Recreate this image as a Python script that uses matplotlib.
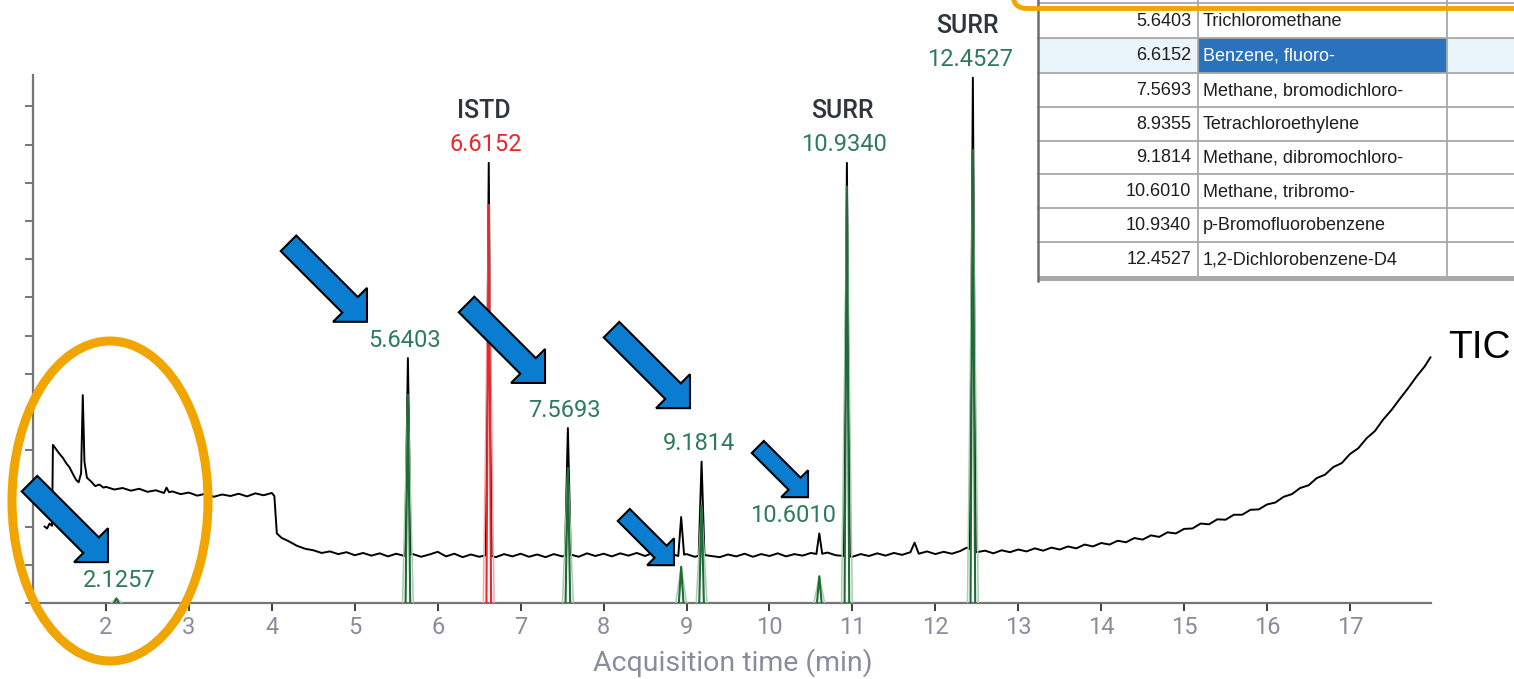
import numpy as np
import matplotlib
matplotlib.use("Agg")
import matplotlib.pyplot as plt
from matplotlib.patches import Polygon, Ellipse, Rectangle, FancyBboxPatch

# ---------------- data ----------------
# TIC baseline (time in min, arbitrary intensity units)
tic_time = [1.26, 1.29, 1.32, 1.35, 1.36, 1.40, 1.44, 1.48, 1.52, 1.56, 1.60, 1.64, 1.67,
            1.70, 1.72, 1.74, 1.77, 1.82, 1.87, 1.92, 1.97,
            2.00, 2.10, 2.20, 2.30, 2.40, 2.50, 2.60, 2.70, 2.73, 2.76, 2.80, 2.90, 3.00,
            3.10, 3.20, 3.30, 3.40, 3.50, 3.60, 3.70, 3.80, 3.90, 4.00, 4.03, 4.06, 4.12,
            4.20, 4.30, 4.40, 4.50, 4.60, 4.70, 4.80, 4.90, 5.00, 5.10, 5.20, 5.30, 5.40,
            5.50, 5.60, 5.70, 5.80, 5.90, 6.00, 6.10, 6.20, 6.30, 6.40, 6.50, 6.60, 6.70,
            6.80, 6.90, 7.00, 7.10, 7.20, 7.30, 7.40, 7.50, 7.60, 7.70, 7.80, 7.90, 8.00,
            8.10, 8.20, 8.30, 8.40, 8.50, 8.60, 8.70, 8.80, 8.90, 9.00, 9.10, 9.20, 9.30,
            9.40, 9.50, 9.60, 9.70, 9.80, 9.90, 10.00, 10.10, 10.20, 10.30, 10.40, 10.50,
            10.60, 10.70, 10.80, 10.90, 11.00, 11.10, 11.20, 11.30, 11.40, 11.50, 11.60,
            11.70, 11.75, 11.80, 11.90, 12.00, 12.10, 12.20, 12.30, 12.38, 12.50, 12.60,
            12.70, 12.80, 12.90, 13.00, 13.10, 13.20, 13.30, 13.40, 13.50, 13.60, 13.70,
            13.80, 13.90, 14.00, 14.10, 14.20, 14.30, 14.40, 14.50, 14.60, 14.70, 14.80,
            14.90, 15.00, 15.10, 15.20, 15.30, 15.40, 15.50, 15.60, 15.70, 15.80, 15.90,
            16.00, 16.10, 16.20, 16.30, 16.40, 16.50, 16.60, 16.70, 16.80, 16.90, 17.00,
            17.10, 17.20, 17.30, 17.40, 17.50, 17.60, 17.70, 17.80, 17.90, 17.97]
tic_level = [2.00, 1.95, 2.08, 2.02, 4.14, 4.02, 3.90, 3.80, 3.66, 3.55, 3.38, 3.22, 3.16,
             3.40, 5.44, 3.70, 3.28, 3.18, 3.06, 3.10, 3.02,
             3.04, 2.97, 3.01, 2.94, 2.99, 2.91, 2.95, 2.88, 3.02, 2.90, 2.92, 2.85, 2.89,
             2.81, 2.86, 2.78, 2.84, 2.80, 2.86, 2.79, 2.87, 2.82, 2.88, 2.80, 1.82, 1.70,
             1.62, 1.50, 1.42, 1.38, 1.31, 1.35, 1.28, 1.33, 1.25, 1.31, 1.24, 1.30, 1.22,
             1.29, 1.23, 1.28, 1.21, 1.27, 1.34, 1.22, 1.29, 1.20, 1.27, 1.21, 1.26, 1.20,
             1.28, 1.22, 1.29, 1.21, 1.27, 1.20, 1.28, 1.22, 1.27, 1.21, 1.30, 1.23, 1.29,
             1.22, 1.30, 1.24, 1.31, 1.23, 1.32, 1.25, 1.30, 1.23, 1.28, 1.21, 1.26, 1.23,
             1.20, 1.27, 1.22, 1.29, 1.21, 1.28, 1.23, 1.30, 1.22, 1.28, 1.24, 1.31,
             1.27, 1.32, 1.25, 1.23, 1.21, 1.28, 1.23, 1.30, 1.24, 1.31, 1.26,
             1.33, 1.58, 1.29, 1.35, 1.28, 1.34, 1.29, 1.36, 1.45, 1.33, 1.37,
             1.30, 1.38, 1.33, 1.40, 1.35, 1.43, 1.37, 1.45, 1.40, 1.48, 1.43,
             1.53, 1.48, 1.57, 1.53, 1.63, 1.59, 1.70, 1.66, 1.77, 1.73, 1.85,
             1.82, 1.94, 1.95, 2.08, 2.06, 2.19, 2.18, 2.31, 2.31, 2.44, 2.45,
             2.58, 2.63, 2.78, 2.85, 3.01, 3.08, 3.27, 3.36, 3.56, 3.66, 3.90,
             4.05, 4.31, 4.50, 4.80, 5.05, 5.34, 5.62, 5.92, 6.19, 6.43]

# identified peaks
peak_rt = [2.1257, 5.6403, 6.6152, 7.5693, 8.9355, 9.1814, 10.6010, 10.9340, 12.4527]
peak_tic_apex = [None, 6.41, 11.52, 4.58, 2.25, 3.70, 1.82, 11.52, 13.75]
peak_eic_height = [0.12, 5.45, 10.42, 3.53, 0.95, 2.55, 0.70, 10.90, 11.86]
peak_kind = ["target", "target", "istd", "target", "target", "target", "target", "surr", "surr"]
peak_labelled = [True, True, True, True, False, True, True, True, True]
kind_tag = {"istd": "ISTD", "surr": "SURR"}

x_ticks = list(range(2, 18))
y_ticks = list(range(0, 14))

table_rt = ["5.6403", "6.6152", "7.5693", "8.9355", "9.1814", "10.6010", "10.9340", "12.4527"]
table_name = ["Trichloromethane", "Benzene, fluoro-", "Methane, bromodichloro-",
              "Tetrachloroethylene", "Methane, dibromochloro-", "Methane, tribromo-",
              "p-Bromofluorobenzene", "1,2-Dichlorobenzene-D4"]
table_selected = 1

# arrow annotations: tip position in data coords, size class
arrow_tips = [(5.147, 7.36, "big"), (7.294, 5.76, "big"), (9.042, 5.10, "big"),
              (10.465, 2.77, "small"), (8.849, 0.99, "small"), (2.024, 1.07, "big")]

# ---------------- styling / layout ----------------
plt.rcParams["font.family"] = ["Roboto", "DejaVu Sans"]
W, H = 1514, 679
fig = plt.figure(figsize=(W / 100, H / 100), dpi=100)
fig.patch.set_facecolor("white")
ax = fig.add_axes([32.5 / W, 1 - 603 / H, (1431 - 32.5) / W, (603 - 75) / H])
ax.set_xlim(1.1137, 17.977)
ax.set_ylim(0, 13.82)

axis_gray = "#767676"
tick_lab = "#8a8c9c"
num_green = "#2e7b5c"
dark_green = "#1f6b36"
light_green = "#a8cdb0"
red = "#e8282f"
light_red = "#f4a8a8"

for s in ["top", "right"]:
    ax.spines[s].set_visible(False)
for s in ["left", "bottom"]:
    ax.spines[s].set_color(axis_gray)
    ax.spines[s].set_linewidth(1.6)
ax.set_xticks(x_ticks)
ax.set_yticks(y_ticks)
ax.tick_params(axis="x", length=5.5, width=1.4, color="#3d3d3d", labelcolor=tick_lab,
               labelsize=17, pad=4)
ax.tick_params(axis="y", length=5.5, width=1.4, color=axis_gray, labelleft=False)
ax.patch.set_alpha(0)

# ---------------- TIC ----------------
bt = np.array(tic_time)
bl = np.array(tic_level)
hw_tic = 0.035
keep = np.ones(bt.shape, bool)
ext_t, ext_y = [], []
for rt, ap in zip(peak_rt, peak_tic_apex):
    if ap is None:
        continue
    keep &= np.abs(bt - rt) > hw_tic
    ext_t += [rt - hw_tic, rt, rt + hw_tic]
    ext_y += [np.interp(rt - hw_tic, bt, bl), ap, np.interp(rt + hw_tic, bt, bl)]
all_t = np.concatenate([bt[keep], ext_t])
all_y = np.concatenate([bl[keep], ext_y])
order = np.argsort(all_t)
ax.plot(all_t[order], all_y[order], color="black", lw=1.4, zorder=2, clip_on=False)

# ---------------- EIC peaks ----------------
for rt, h, kind in zip(peak_rt, peak_eic_height, peak_kind):
    dark, light = (red, light_red) if kind == "istd" else (dark_green, light_green)
    hw1, hw2 = 0.065, 0.028
    ax.plot([rt - hw1, rt, rt + hw1], [0, h, 0], color=light, lw=1.1, zorder=3)
    ax.plot([rt - hw2, rt, rt + hw2], [0, h, 0], color=dark, lw=1.5, zorder=4)

# ---------------- labels ----------------
label_dx = {10.6010: -26, 2.1257: 3}
for rt, ap, h, kind, lab in zip(peak_rt, peak_tic_apex, peak_eic_height, peak_kind, peak_labelled):
    if not lab:
        continue
    top = max(ap or 0, h)
    dx = label_dx.get(rt, -3)
    col = red if kind == "istd" else num_green
    ax.annotate(f"{rt:.4f}", xy=(rt, top), xytext=(dx, 18), textcoords="offset pixels",
                ha="center", va="center", fontsize=17, color=col, annotation_clip=False,
                zorder=6)
    if kind in kind_tag:
        ax.annotate(kind_tag[kind], xy=(rt, top), xytext=(dx - 2, 52), textcoords="offset pixels",
                    ha="center", va="center", fontsize=18, fontweight="medium",
                    color="#30343c", annotation_clip=False, zorder=6)

# ---------------- overlay (pixel coordinates) ----------------
ov = fig.add_axes([0, 0, 1, 1], zorder=5)
ov.set_xlim(0, W)
ov.set_ylim(H, 0)
ov.axis("off")
ov.patch.set_alpha(0)

def to_px(t, y):
    dx, dy = ax.transData.transform((t, y))
    return dx, H - dy

# orange ellipse
ov.add_patch(Ellipse((110, 501), 196, 320, fill=False, ec="#F0A500", lw=6.5, zorder=6))

# blue arrows
sizes = {"big": (111, 22, 48), "small": (71, 17, 38)}
u = np.array([1, 1]) / np.sqrt(2)
n = np.array([-1, 1]) / np.sqrt(2)
for t, y, sz in arrow_tips:
    L, sw, hw = sizes[sz]
    tip = np.array(to_px(t, y))
    tail = tip - u * L
    neck = tip - u * (hw / 2)
    pts = [tail + n * sw / 2, neck + n * sw / 2, neck + n * hw / 2, tip,
           neck - n * hw / 2, neck - n * sw / 2, tail - n * sw / 2]
    ov.add_patch(Polygon(pts, closed=True, fc="#0A7DD1", ec="black", lw=1.5,
                         joinstyle="miter", zorder=7))

# table
col_x = [1038, 1198, 1447, 1530]
row_y = [3.3, 38.3, 72.7, 107.3, 140.7, 174.3, 208.3, 242.3, 276]
ov.add_patch(Rectangle((1038, -5), 500, 281, fc="white", ec="none", zorder=8))
r0, r1 = row_y[table_selected], row_y[table_selected + 1]
ov.add_patch(Rectangle((col_x[0], r0), col_x[1] - col_x[0], r1 - r0, fc="#eaf4fb", ec="none", zorder=8))
ov.add_patch(Rectangle((col_x[2], r0), col_x[3] - col_x[2], r1 - r0, fc="#eaf4fb", ec="none", zorder=8))
ov.add_patch(Rectangle((col_x[1], r0), col_x[2] - col_x[1], r1 - r0, fc="#2a72bb", ec="none", zorder=8))
for yy in row_y[:-1]:
    ov.plot([col_x[0], W], [yy, yy], color="#a8a8a8", lw=1.3, zorder=9)
for xx in col_x[1:3]:
    ov.plot([xx, xx], [-5, row_y[-1]], color="#a8a8a8", lw=1.3, zorder=9)
ov.add_patch(Rectangle((col_x[0], row_y[-1]), W - col_x[0] + 5, 5, fc="#a9a9a9", ec="none", zorder=9))
ov.plot([col_x[0], col_x[0]], [-5, row_y[-1] + 5], color="#6e6e6e", lw=1.8, zorder=10)
tfont = ["Liberation Sans Narrow", "Liberation Sans", "DejaVu Sans"]
for i, (rt, nm) in enumerate(zip(table_rt, table_name)):
    yc = (row_y[i] + row_y[i + 1]) / 2 + 0.5
    sel = i == table_selected
    ov.text(1191, yc, rt, ha="right", va="center", fontsize=13, family=tfont,
            color="#1e1e1e", zorder=11)
    ov.text(1203, yc, nm, ha="left", va="center", fontsize=13, family=tfont,
            color="white" if sel else "#1e1e1e", zorder=11)

# orange rounded frame (top right)
ov.add_patch(FancyBboxPatch((1013, -80), 600, 88.5, boxstyle="round,pad=0,rounding_size=14",
                            fill=False, ec="#F0A500", lw=3.5, zorder=12))

# TIC label and axis title
ov.text(1479, 348, "TIC", ha="center", va="center", fontsize=28,
        family=["Liberation Sans", "DejaVu Sans"], color="black", zorder=6)
ov.text(733, 663, "Acquisition time (min)", ha="center", va="center", fontsize=20.5,
        color=tick_lab, zorder=6)

fig.savefig("out.png", dpi=100)
